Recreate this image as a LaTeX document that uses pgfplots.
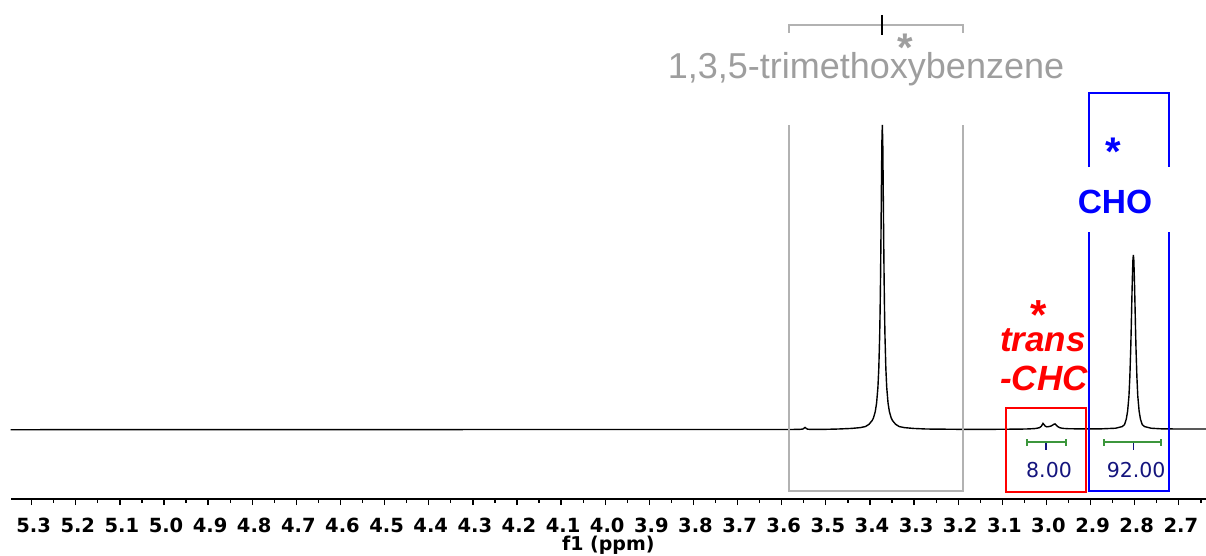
\documentclass[border=0pt]{standalone}
\usepackage{pgfplots}
\pgfplotsset{compat=1.18}
\usepackage{fontspec}
\setmainfont{DejaVu Sans}
\newfontfamily\arial{Liberation Sans}
\definecolor{grayline}{RGB}{178,178,178}
\definecolor{graytext}{RGB}{158,158,158}
\definecolor{intgreen}{RGB}{60,150,60}
\definecolor{navytext}{RGB}{20,20,125}
\pgfplotstableread{
x y
5.3476 125.3
5.0 125.4
4.6 125.4
4.2 125.5
3.9 125.5
3.7 125.5
3.6 125.5
3.56 125.6
3.552 126.0
3.549 127.0
3.547 127.6
3.545 126.8
3.542 125.9
3.535 125.6
3.50 125.7
3.472 126.0
3.442 126.6
3.422 127.4
3.410 128.5
3.402 130.8
3.395 134.5
3.392 137.2
3.388 143.4
3.385 151.9
3.382 167.5
3.380 186.5
3.378 219.3
3.377 244.5
3.376 278.0
3.375 320.5
3.374 369.5
3.373 412.5
3.372 430.0
3.371 412.5
3.370 369.5
3.369 320.5
3.368 278.0
3.367 244.5
3.366 219.3
3.364 186.5
3.362 167.5
3.359 151.9
3.356 143.4
3.352 137.2
3.349 134.5
3.342 130.8
3.334 128.5
3.322 127.4
3.302 126.6
3.272 126.0
3.20 125.7
3.12 125.7
3.06 125.9
3.04 126.1
3.025 126.5
3.016 127.3
3.012 128.6
3.0095 130.3
3.0078 131.6
3.0055 130.4
3.0025 128.8
2.999 128.2
2.995 128.4
2.990 128.9
2.986 129.9
2.983 130.8
2.9806 131.1
2.978 130.1
2.975 128.6
2.970 127.3
2.962 126.6
2.950 126.3
2.92 126.1
2.88 126.1
2.843 126.8
2.828 128.5
2.823 130.5
2.819 136
2.816 144
2.813 159
2.811 178
2.809 206
2.808 224
2.807 244
2.806 264
2.805 281
2.804 295
2.803 300
2.802 295
2.801 281
2.800 264
2.799 244
2.798 224
2.797 206
2.795 178
2.793 159
2.790 144
2.787 136
2.783 130.5
2.778 128.5
2.763 126.8
2.74 126.2
2.70 126.0
2.6384 126.0
}\spectrum
\begin{document}
\begin{tikzpicture}
\begin{axis}[
  scale only axis,
  width=1195.3pt, height=499pt,
  x dir=reverse,
  xmin=2.6384, xmax=5.3476,
  ymin=56, ymax=555,
  axis x line=bottom,
  axis y line=none,
  x axis line style={-, line width=1.6pt, black},
  clip=false,
  xtick={2.7,2.8,2.9,3.0,3.1,3.2,3.3,3.4,3.5,3.6,3.7,3.8,3.9,4.0,4.1,4.2,4.3,4.4,4.5,4.6,4.7,4.8,4.9,5.0,5.1,5.2,5.3},
  minor xtick={2.65,2.75,2.85,2.95,3.05,3.15,3.25,3.35,3.45,3.55,3.65,3.75,3.85,3.95,4.05,4.15,4.25,4.35,4.45,4.55,4.65,4.75,4.85,4.95,5.05,5.15,5.25},
  tick align=outside,
  major tick length=6pt,
  minor tick length=3.5pt,
  every tick/.style={black, line width=1.3pt},
  xticklabel style={font=\bfseries\fontsize{19.5}{22}\selectfont, anchor=base, yshift=-27.5pt, xshift=2pt},
  /pgf/number format/assume math mode=true,
  /pgf/number format/.cd, fixed, fixed zerofill, precision=1,
]
\addplot[black, line width=1.4pt] table[x=x, y=y] {\spectrum};

% reference bracket and box (gray)
\draw[grayline, line width=1.5pt] (axis cs:3.5835,522) -- (axis cs:3.5835,530) -- (axis cs:3.1892,530) -- (axis cs:3.1892,522);
\draw[black, line width=1.8pt] (axis cs:3.3721,540) -- (axis cs:3.3721,520);
\draw[grayline, line width=1.5pt] (axis cs:3.5835,430) -- (axis cs:3.5835,64) -- (axis cs:3.1892,64) -- (axis cs:3.1892,430);
\node[anchor=base, inner sep=0pt, text=graytext, font=\arial\bfseries\fontsize{40}{44}\selectfont] at (axis cs:3.3206,494) {*};
\node[anchor=base, inner sep=0pt, text=graytext, font=\arial\fontsize{36}{40}\selectfont] at (axis cs:3.4090,477) {1,3,5-trimethoxybenzene};

% trans-CHC (red)
\draw[red, line width=2pt] (axis cs:3.0917,147) rectangle (axis cs:2.9104,63);
\node[anchor=base, inner sep=0pt, text=red, font=\arial\bfseries\fontsize{42}{46}\selectfont] at (axis cs:3.0169,226) {*};
\node[anchor=base, inner sep=0pt, text=red, font=\arial\bfseries\itshape\fontsize{35}{40}\selectfont] at (axis cs:3.0078,204) {trans};
\node[anchor=base, inner sep=0pt, text=red, font=\arial\bfseries\itshape\fontsize{35}{40}\selectfont] at (axis cs:3.0055,165) {-CHC};

% CHO (blue)
\draw[blue, line width=2pt] (axis cs:2.9036,388) -- (axis cs:2.9036,462) -- (axis cs:2.7223,462) -- (axis cs:2.7223,388);
\draw[blue, line width=2pt] (axis cs:2.9036,323) -- (axis cs:2.9036,64) -- (axis cs:2.7223,64) -- (axis cs:2.7223,323);
\node[anchor=base, inner sep=0pt, text=blue, font=\arial\bfseries\fontsize{40}{44}\selectfont] at (axis cs:2.8492,390) {*};
\node[anchor=base, inner sep=0pt, text=blue, font=\arial\bfseries\fontsize{33.5}{38}\selectfont] at (axis cs:2.8447,342) {CHO};

% integrals
\draw[intgreen, line width=1.2pt] (axis cs:3.0441,113) -- (axis cs:2.9557,113);
\draw[intgreen, line width=1.2pt] (axis cs:3.0441,109.5) -- (axis cs:3.0441,116.5);
\draw[intgreen, line width=1.2pt] (axis cs:2.9557,109.5) -- (axis cs:2.9557,116.5);
\draw[navytext, line width=1.2pt] (axis cs:3.0010,112) -- (axis cs:3.0010,105);
\node[anchor=center, inner sep=0pt, text=navytext, font=\fontsize{20.5}{24}\selectfont] at (axis cs:2.9942,85) {8.00};
\draw[intgreen, line width=1.2pt] (axis cs:2.8696,113) -- (axis cs:2.7404,113);
\draw[intgreen, line width=1.2pt] (axis cs:2.8696,109.5) -- (axis cs:2.8696,116.5);
\draw[intgreen, line width=1.2pt] (axis cs:2.7404,109.5) -- (axis cs:2.7404,116.5);
\draw[navytext, line width=1.2pt] (axis cs:2.8036,112) -- (axis cs:2.8036,105);
\node[anchor=center, inner sep=0pt, text=navytext, font=\fontsize{20.5}{24}\selectfont] at (axis cs:2.7968,85) {92.00};

% axis label
\node[anchor=base, inner sep=0pt, font=\bfseries\fontsize{19}{21}\selectfont] at (axis cs:3.993,5) {f1 (ppm)};

\coordinate (TL) at (axis cs:5.3718,555);
\coordinate (BR) at (axis cs:2.6384,0);
\end{axis}
\pgfresetboundingbox
\path[use as bounding box] (TL) rectangle (BR);
\end{tikzpicture}
\end{document}
